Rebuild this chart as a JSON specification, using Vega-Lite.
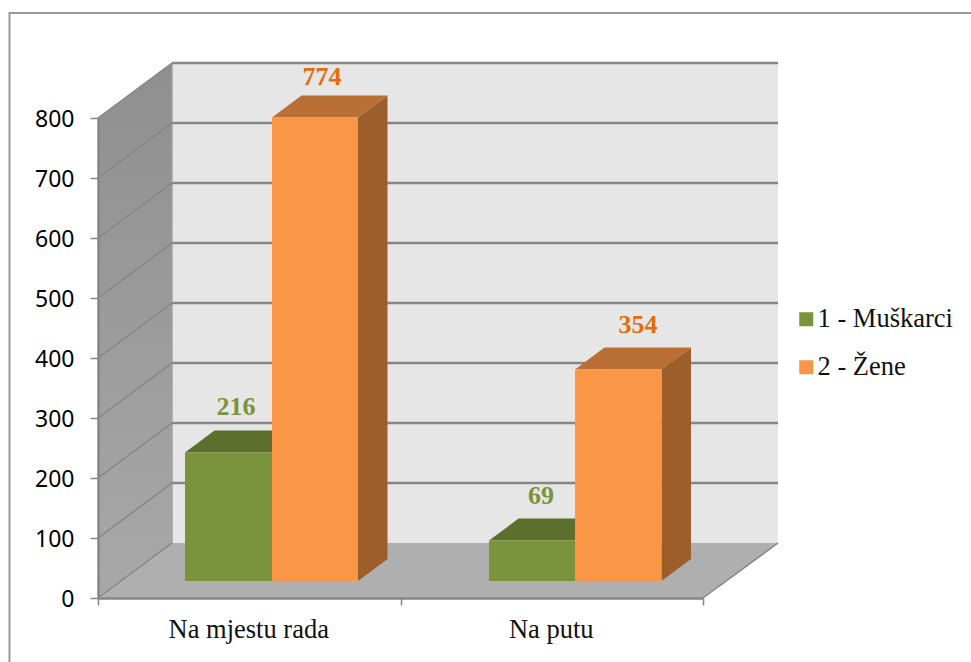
{
"$schema":"https://vega.github.io/schema/vega-lite/v6.json",
"width":605,"height":480,
"autosize":{"type":"none"},
"padding":{"left":98,"top":118,"right":268,"bottom":64},
"background":"white",
"view":{"stroke":null},
"config":{"view":{"stroke":null}},
"datasets":{
"frame":[{"i":1,"x":-0.2926,"y":-106.67},{"i":2,"x":-0.2926,"y":975},{"i":3,"x":2.886,"y":975}],
"leftWall":[{"x":0,"y":800,"y2":0},{"x":0.2446,"y":891.67,"y2":91.67}],
"backWall":[{"x":0.2446,"x2":2.2479,"y":91.67,"y2":891.67}],
"floor":[{"x":0,"y":0,"y2":0},{"x":0.2446,"y":91.67,"y2":0},{"x":2,"y":91.67,"y2":0},{"x":2.2479,"y":91.67,"y2":91.67}],
"grid":[{"v":100},{"v":200},{"v":300},{"v":400},{"v":500},{"v":600},{"v":700},{"v":800}],
"slant":[
{"id":"0","x":0,"y":0},{"id":"0","x":0.2446,"y":91.67},
{"id":"100","x":0,"y":100},{"id":"100","x":0.2446,"y":191.67},
{"id":"200","x":0,"y":200},{"id":"200","x":0.2446,"y":291.67},
{"id":"300","x":0,"y":300},{"id":"300","x":0.2446,"y":391.67},
{"id":"400","x":0,"y":400},{"id":"400","x":0.2446,"y":491.67},
{"id":"500","x":0,"y":500},{"id":"500","x":0.2446,"y":591.67},
{"id":"600","x":0,"y":600},{"id":"600","x":0.2446,"y":691.67},
{"id":"700","x":0,"y":700},{"id":"700","x":0.2446,"y":791.67},
{"id":"800","x":0,"y":800},{"id":"800","x":0.2446,"y":891.67},
{"id":"edge","x":2,"y":0},{"id":"edge","x":2.2479,"y":91.67}],
"tops":[
{"bar":"a","series":"1 - Muškarci","x":0.2876,"y":216,"y2":216},{"bar":"a","series":"1 - Muškarci","x":0.3851,"y":252.67,"y2":216},{"bar":"a","series":"1 - Muškarci","x":0.5752,"y":252.67,"y2":216},{"bar":"a","series":"1 - Muškarci","x":0.6727,"y":252.67,"y2":252.67},
{"bar":"b","series":"2 - Žene","x":0.5752,"y":774,"y2":774},{"bar":"b","series":"2 - Žene","x":0.6727,"y":810.67,"y2":774},{"bar":"b","series":"2 - Žene","x":0.8595,"y":810.67,"y2":774},{"bar":"b","series":"2 - Žene","x":0.957,"y":810.67,"y2":810.67},
{"bar":"c","series":"1 - Muškarci","x":1.2926,"y":69,"y2":69},{"bar":"c","series":"1 - Muškarci","x":1.3901,"y":105.67,"y2":69},{"bar":"c","series":"1 - Muškarci","x":1.5769,"y":105.67,"y2":69},{"bar":"c","series":"1 - Muškarci","x":1.6744,"y":105.67,"y2":105.67},
{"bar":"d","series":"2 - Žene","x":1.5769,"y":354,"y2":354},{"bar":"d","series":"2 - Žene","x":1.6744,"y":390.67,"y2":354},{"bar":"d","series":"2 - Žene","x":1.8628,"y":390.67,"y2":354},{"bar":"d","series":"2 - Žene","x":1.9603,"y":390.67,"y2":390.67}],
"sides":[
{"bar":"b","x":0.8595,"y":774,"y2":0},{"bar":"b","x":0.957,"y":810.67,"y2":36.67},
{"bar":"d","x":1.8628,"y":354,"y2":0},{"bar":"d","x":1.9603,"y":390.67,"y2":36.67}],
"bars":[
{"category":"Na mjestu rada","series":"1 - Muškarci","x":0.2876,"x2":0.5752,"value":216,"lx":0.4562,"ly":216},
{"category":"Na mjestu rada","series":"2 - Žene","x":0.5752,"x2":0.8595,"value":774,"lx":0.7405,"ly":766},
{"category":"Na putu","series":"1 - Muškarci","x":1.2926,"x2":1.5769,"value":69,"lx":1.4645,"ly":69},
{"category":"Na putu","series":"2 - Žene","x":1.5769,"x2":1.8628,"value":354,"lx":1.785,"ly":354}]
},
"encoding":{
"x":{"type":"quantitative","scale":{"domain":[0,2],"nice":false,"zero":false}},
"y":{"type":"quantitative","scale":{"domain":[0,800],"nice":false,"zero":false}}
},
"layer":[
{"data":{"name":"frame"},"mark":{"type":"line","color":"#9a9a9a","strokeWidth":2,"clip":false},
 "encoding":{"x":{"field":"x","type":"quantitative","axis":{"title":null,"values":[0,0.5,1,1.5,2],"zindex":1,"grid":false,"domainColor":"#868686","domainWidth":2.5,"tickColor":"#868686","tickWidth":1.5,"tickSize":7,"tickOpacity":{"condition":{"test":"datum.value==0.5||datum.value==1.5","value":0},"value":1},"labelExpr":"datum.value==0.5?'Na mjestu rada':datum.value==1.5?'Na putu':''","labelFont":"Liberation Serif","labelFontSize":26.5,"labelColor":"#111111","labelPadding":11,"labelOverlap":false,"labelFlush":false,"labelBound":false,"labelOffset":-1}},
 "y":{"field":"y","type":"quantitative","axis":{"title":null,"values":[0,100,200,300,400,500,600,700,800],"zindex":1,"grid":false,"domainColor":"#868686","domainWidth":2.5,"tickColor":"#868686","tickWidth":1.5,"tickSize":8,"labelFont":"Noto Sans","labelFontSize":23,"labelColor":"#000000","labelPadding":16,"labelOffset":1.5,"labelOverlap":false,"labelFlush":false,"labelBound":false}},
 "order":{"field":"i"}}},
{"data":{"name":"leftWall"},"mark":{"type":"area","orient":"vertical","color":{"gradient":"linear","x1":0,"y1":0,"x2":0,"y2":1,"stops":[{"offset":0,"color":"#8f8f8f"},{"offset":1,"color":"#a8a8a8"}]}},
 "encoding":{"x":{"field":"x","type":"quantitative"},"y":{"field":"y","type":"quantitative","stack":null},"y2":{"field":"y2"}}},
{"data":{"name":"backWall"},"mark":{"type":"rect","color":"#e6e6e6"},
 "encoding":{"x":{"field":"x","type":"quantitative"},"x2":{"field":"x2"},"y":{"field":"y","type":"quantitative"},"y2":{"field":"y2"}}},
{"data":{"name":"floor"},"mark":{"type":"area","orient":"vertical","color":"#afafaf"},
 "encoding":{"x":{"field":"x","type":"quantitative"},"y":{"field":"y","type":"quantitative","stack":null},"y2":{"field":"y2"}}},
{"data":{"name":"backWall"},"mark":{"type":"rule","color":"#a0a0a0","strokeWidth":1.5},
 "encoding":{"x":{"field":"x","type":"quantitative"},"y":{"field":"y","type":"quantitative"},"y2":{"field":"y2"}}},
{"data":{"name":"grid"},"mark":{"type":"rule","color":"#868686","strokeWidth":2.5,"yOffset":-55},
 "encoding":{"x":{"datum":0.2446,"type":"quantitative"},"x2":{"datum":2.2479},"y":{"field":"v","type":"quantitative"}}},
{"data":{"name":"slant"},"mark":{"type":"line","color":"#868686","strokeWidth":1.5},
 "encoding":{"x":{"field":"x","type":"quantitative"},"y":{"field":"y","type":"quantitative"},"detail":{"field":"id"}}},
{"data":{"name":"tops"},"mark":{"type":"area","orient":"vertical","yOffset":-16,"y2Offset":-16},
 "encoding":{"x":{"field":"x","type":"quantitative"},"y":{"field":"y","type":"quantitative","stack":null},"y2":{"field":"y2"},"detail":{"field":"bar"},
 "color":{"field":"series","type":"nominal","legend":null,"scale":{"domain":["1 - Muškarci","2 - Žene"],"range":["#5c6f2d","#ba7034"]}}}},
{"data":{"name":"sides"},"mark":{"type":"area","orient":"vertical","color":"#9c5f2b","yOffset":-16,"y2Offset":-17},
 "encoding":{"x":{"field":"x","type":"quantitative"},"y":{"field":"y","type":"quantitative","stack":null},"y2":{"field":"y2"},"detail":{"field":"bar"}}},
{"data":{"name":"bars"},"mark":{"type":"rect","yOffset":-16,"y2Offset":-17},
 "encoding":{"x":{"field":"x","type":"quantitative"},"x2":{"field":"x2"},"y":{"field":"value","type":"quantitative"},"y2":{"datum":0},
 "color":{"field":"series","type":"nominal","scale":{"domain":["1 - Muškarci","2 - Žene"],"range":["#7b943b","#fa9747"]},
 "legend":{"title":null,"orient":"none","legendX":695,"legendY":188,"symbolType":"square","symbolSize":196,"symbolStrokeWidth":0,"labelFont":"Liberation Serif","labelFontSize":26.5,"labelColor":"#111111","labelOffset":-2,"rowPadding":21,"labelLimit":300}}}},
{"data":{"name":"bars"},"mark":{"type":"text","font":"Liberation Serif","fontWeight":"bold","fontSize":26,"baseline":"middle","align":"center","dy":-61},
 "encoding":{"x":{"field":"lx","type":"quantitative"},"y":{"field":"ly","type":"quantitative"},"text":{"field":"value","type":"quantitative"},
 "color":{"field":"series","type":"nominal","legend":null,"scale":{"domain":["1 - Muškarci","2 - Žene"],"range":["#7b943b","#e46c0a"]}}}}
],
"resolve":{"scale":{"color":"independent"}}
}
